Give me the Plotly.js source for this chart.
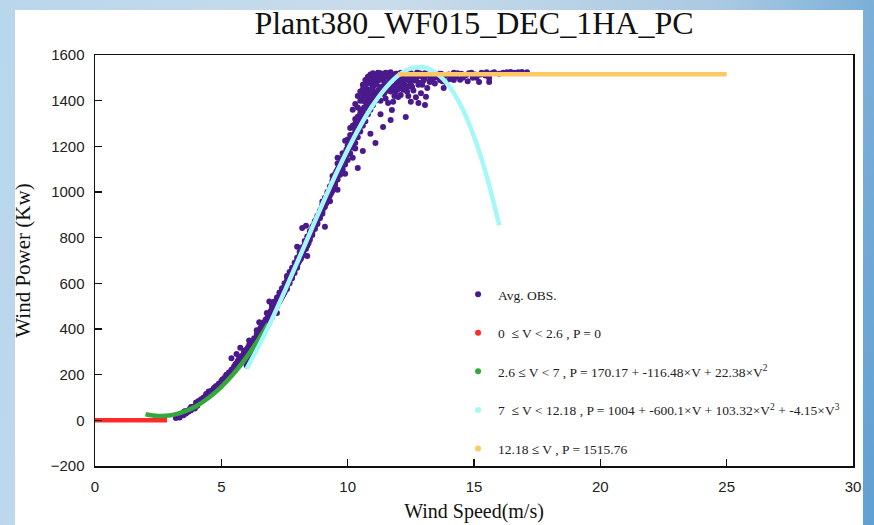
<!DOCTYPE html>
<html>
<head>
<meta charset="utf-8">
<script src="https://cdn.plot.ly/plotly-3.0.1.min.js"></script>
<style>
  html, body { margin: 0; padding: 0; width: 874px; height: 525px; overflow: hidden; }
  body { background: linear-gradient(100deg, #b9d6ec 0%, #c9dceb 40%, #a9c9e2 75%, #5f9fd2 100%); position: relative; }
  #panel { position: absolute; left: 15px; top: 10px; width: 848px; height: 515px; background: #ffffff; }
  #chart { position: absolute; left: 0; top: 0; width: 874px; height: 525px; }
</style>
</head>
<body>
<div id="panel"></div>
<div id="chart"></div>
<script>
const obsV = [
  3.2,3.3,3.35,3.4,3.5,3.5,3.6,3.65,3.7,3.75,3.8,3.85,3.9,3.95,4.0,4.0,4.05,4.1,4.15,4.2,4.25,4.3,4.35,4.4,4.45,4.5,4.5,
  4.55,4.6,4.65,4.7,4.75,4.8,4.85,4.9,4.95,5.0,5.0,5.05,5.1,5.15,5.2,5.2,5.25,5.3,5.35,5.4,5.45,5.5,5.5,5.55,5.6,5.65,5.7,5.7,5.75,5.8,5.85,5.9,5.95,6.0,6.0,
  5.4,5.75,5.6,6.1,
  6.05,6.1,6.15,6.2,6.25,6.3,6.35,6.4,6.45,6.5,6.5,6.55,6.6,6.65,6.7,6.75,6.8,6.85,6.9,6.95,7.0,7.0,7.05,7.1,7.15,7.2,7.25,7.3,7.35,7.4,7.45,7.5,7.5,
  6.5,6.9,7.2,7.6,
  7.55,7.6,7.65,7.7,7.75,7.8,7.85,7.9,7.95,8.0,8.0,8.05,8.1,8.15,8.2,8.25,8.3,8.35,8.4,8.45,8.5,8.5,8.55,8.6,8.65,8.7,8.75,8.8,8.85,8.9,8.95,9.0,9.0,
  8.0,8.4,9.1,8.2,8.35,9.3,
  9.05,9.1,9.15,9.2,9.25,9.3,9.35,9.4,9.45,9.5,9.5,9.55,9.6,9.65,9.7,9.75,9.8,9.85,9.9,9.95,10.0,10.0,10.05,10.1,10.15,10.2,10.25,10.3,10.35,10.4,10.45,10.5,
  9.6,9.9,10.2,10.4,10.6,10.3,
  9.4,9.6,9.9,10.1,10.3,
  10.5,10.55,10.6,10.65,10.7,10.75,10.8,10.85,10.9,10.95,11.0,10.6,10.7,10.8,10.9,11.0,11.1,11.2,11.3,
  10.2,10.4,10.6,10.8,10.3,10.5,10.7,11.0,10.9,
  11.1,11.4,11.7,11.75,12.3,12.0,12.5,12.8,13.06,13.1,12.9,13.8,14.2,10.9,11.3,11.6,
  11.0,11.1,11.15,11.2,11.25,11.3,11.35,11.4,11.45,11.5,11.55,11.6,11.65,11.7,11.75,11.8,11.85,11.9,11.95,12.0,12.05,12.1,12.15,12.2,12.25,12.3,12.35,12.4,12.45,12.5,
  12.55,12.6,12.7,12.75,12.8,12.9,13.0,13.05,13.15,13.2,13.3,13.4,13.45,13.55,13.65,13.7,13.8,13.9,14.0,14.1,14.2,14.3,14.45,14.5,14.6,14.75,14.8,14.95,15.05,15.2,
  15.3,15.45,15.6,15.6,15.8,16.0,16.3,16.6,16.9,17.1,
  11.35,11.5,11.6,11.8,11.95,12.1,12.25,12.4,12.6,12.85,13.0,13.25,13.5,11.45,11.7,11.9,12.2,12.5,12.65,13.35,
  3.45,3.55,3.8,4.05,4.2,4.4,4.6,4.75,4.9,5.05,5.2,5.3,5.45,5.6,5.8,5.9,
  6.0,6.0,6.0,6.1,6.1,6.2,6.2,6.2,6.3,6.3,6.4,6.4,6.4,6.5,6.5,6.6,6.6,6.6,6.7,6.7,6.8,6.8,6.8,6.9,6.9,
  7.0,7.0,7.0,7.1,7.1,7.2,7.2,7.2,7.3,7.3,7.4,7.4,7.4,7.5,7.5,7.6,7.6,7.6,7.7,7.7,7.8,7.8,7.8,7.9,7.9,
  8.0,8.0,8.0,8.1,8.1,8.2,8.2,8.2,8.3,8.3,8.4,8.4,8.4,8.5,8.5,8.6,8.6,8.6,8.7,8.7,8.8,8.8,8.8,8.9,8.9,
  9.0,9.0,9.0,9.1,9.1,9.2,9.2,9.2,9.3,9.3,9.4,9.4,9.4,9.5,9.5,9.6,9.6,9.6,9.7,9.7,9.8,9.8,9.8,9.9,9.9,
  10.0,10.0,10.0,10.1,10.1,10.1,10.2,10.2,10.2,10.3,10.3,10.3,10.4,10.4,10.4,10.4,10.5,10.5,10.5,10.5,
  10.6,10.6,10.6,10.6,10.7,10.7,10.7,10.7,10.8,10.8,10.8,10.8,10.9,10.9,10.9,11.0,11.0,11.0,11.1,11.1,11.1,11.2,11.2,11.2,11.3,11.3,11.3,
  11.35,11.45,11.55,11.65,11.75,11.85,11.95,12.05,12.15,12.25,12.35,12.45,12.55,12.65,12.75,12.85,12.95,13.05,13.15,13.25,13.35,13.45,13.6,13.75,13.85,14.05,14.15,14.35,14.55,14.7,14.9,15.1,15.25,15.5,15.7,16.15,16.45,16.75,
  11.4,11.5,11.7,11.8,12.0,12.1,12.3,12.4,12.6,12.7,11.6,11.9
];
const obsP = [
  10,18,12,25,22,35,30,42,38,50,44,55,60,52,68,78,72,85,80,92,88,100,96,108,104,118,126,
  115,130,124,140,132,150,142,160,150,172,158,180,170,190,182,200,193,210,203,222,212,235,218,245,238,260,250,270,262,282,272,298,285,310,292,
  272,318,290,350,
  318,330,312,345,335,360,342,378,365,395,372,405,390,425,410,440,428,458,445,478,462,490,480,508,495,525,512,548,530,565,550,585,560,
  430,520,470,632,
  598,575,615,600,640,622,660,645,685,668,700,690,725,708,745,730,770,752,790,775,815,790,830,812,855,838,878,860,900,885,925,905,945,
  760,720,848,842,852,960,
  930,965,950,990,972,1015,995,1040,1020,1065,1040,1090,1070,1110,1092,1135,1115,1160,1140,1185,1165,1205,1190,1228,1210,1250,1232,1270,1255,1292,1275,1310,
  1010,1080,1150,1105,1180,1190,
  1070,1150,1225,1280,1320,
  1360,1330,1400,1370,1420,1385,1450,1405,1475,1430,1495,1290,1310,1340,1360,1380,1400,1420,1400,
  1360,1420,1470,1505,1385,1440,1490,1520,1515,
  1215,1285,1315,1359,1329,1416,1395,1390,1381,1417,1433,1456,1491,1255,1340,1390,
  1440,1500,1470,1515,1490,1520,1460,1505,1480,1522,1445,1510,1490,1525,1465,1505,1420,1518,1480,1500,1455,1522,1490,1510,1470,1525,1440,1505,1485,1520,
  1460,1512,1495,1523,1470,1508,1488,1520,1455,1512,1495,1522,1475,1505,1490,1518,1500,1480,1515,1498,1522,1505,1492,1518,1508,1485,1520,1500,1515,1482,
  1522,1510,1482,1499,1524,1518,1525,1522,1526,1524,
  1498,1470,1512,1450,1495,1475,1500,1462,1490,1478,1505,1485,1510,1432,1455,1440,1448,1470,1505,1496,
  28,40,58,64,86,115,122,145,148,165,190,198,225,250,270,305,
  240,262,300,270,305,285,320,300,310,332,330,352,395,350,380,370,408,385,395,430,410,445,470,430,462,
  450,472,505,480,520,500,538,512,520,560,540,578,555,565,600,590,612,628,610,650,630,668,645,660,690,
  675,712,690,700,738,720,758,735,748,785,765,805,782,795,828,820,848,835,842,872,865,895,880,890,918,
  915,940,958,935,975,960,1000,980,985,1025,1005,1050,1030,1030,1078,1055,1100,1125,1075,1120,1100,1150,1170,1120,1170,
  1140,1195,1230,1170,1215,1250,1195,1235,1290,1215,1260,1300,1240,1285,1330,1370,1265,1300,1345,1400,
  1320,1360,1420,1450,1340,1395,1440,1470,1365,1420,1480,1490,1390,1440,1495,1410,1460,1505,1430,1480,1512,1445,1490,1522,1460,1500,1508,
  1515,1500,1520,1470,1512,1495,1518,1505,1515,1490,1520,1500,1515,1488,1505,1520,1470,1498,1515,1482,1510,1500,1518,1485,1510,1495,1510,1520,1500,1512,1522,1500,1515,1525,1520,1522,1526,1524,
  1430,1410,1440,1395,1450,1425,1460,1420,1445,1415,1460,1465
];

// ---- Fitted segments ----
const redV = [0, 2.85];
const redP = [0, 0];

const greenV = [2.0, 2.5, 3.0, 3.5, 4.0, 4.5, 5.0, 5.5, 6.0, 6.5, 6.85];
const greenP = [27, 19, 22, 37, 62, 99, 147, 206, 277, 359, 422];

const cyanV = [6.0, 6.5, 7.0, 7.5, 8.0, 8.5, 9.0, 9.5, 10.0, 10.5, 11.0, 11.5, 12.0, 12.5, 13.0, 13.5, 14.0, 14.5, 15.0, 15.5, 16.0];
const cyanP = [226, 329, 442, 564, 691, 819, 947, 1070, 1185, 1290, 1381, 1455, 1510, 1541, 1546, 1522, 1466, 1374, 1243, 1071, 854];

const orangeV = [12.0, 25.0];
const orangeP = [1515.76, 1515.76];

// ---- Labels ----
const chartTitle = 'Plant380_WF015_DEC_1HA_PC';
const xTitle = 'Wind Speed(m/s)';
const yTitle = 'Wind Power (Kw)';
const legendNames = [
  'Avg. OBS.',
  '0 \u00a0\u2264 V < 2.6 , P = 0',
  '2.6 \u2264 V < 7 , P = 170.17 + -116.48\u00d7V + 22.38\u00d7V<sup>2</sup>',
  '7 \u00a0\u2264 V < 12.18 , P = 1004 + -600.1\u00d7V + 103.32\u00d7V<sup>2</sup> + -4.15\u00d7V<sup>3</sup>',
  '12.18 \u2264 V , P = 1515.76'
];
const colors = ['#4a1a8c', '#ff2a2a', '#35a83c', '#a4f8f8', '#ffc864'];

const traces = [];
traces.push({
  x: obsV, y: obsP, type: 'scatter', mode: 'markers', name: legendNames[0],
  legendgroup: 'g0',
  marker: { color: colors[0], size: 6 }
});
// legend entries (dots) for fitted segments
for (let i = 1; i < 5; i++) {
  traces.push({
    x: [null], y: [null], type: 'scatter', mode: 'markers', name: legendNames[i],
    legendgroup: 'g' + i,
    marker: { color: colors[i], size: 6 }
  });
}
const segs = [[redV, redP], [greenV, greenP], [cyanV, cyanP], [orangeV, orangeP]];
segs.forEach((s, i) => {
  traces.push({
    x: s[0], y: s[1], type: 'scatter', mode: 'lines', showlegend: false,
    legendgroup: 'g' + (i + 1),
    line: { color: colors[i + 1], width: 4.5, shape: 'spline' }
  });
});

const layout = {
  width: 874, height: 525,
  paper_bgcolor: 'rgba(0,0,0,0)', plot_bgcolor: '#ffffff',
  margin: { l: 95, r: 21, t: 55, b: 59 },
  title: {
    text: chartTitle, x: 0.5, xref: 'paper', y: 23, yref: 'container', yanchor: 'middle',
    font: { family: 'Liberation Serif', size: 32, color: '#111' }
  },
  xaxis: {
    range: [0, 30], dtick: 5, tick0: 0,
    showgrid: false, zeroline: false,
    showline: true, linecolor: '#111', linewidth: 1.5, mirror: true,
    ticks: 'inside', ticklen: 7, tickwidth: 1.2, tickcolor: '#111',
    ticklabelstandoff: 6,
    tickfont: { family: 'Liberation Sans', size: 15, color: '#222' },
    title: { text: xTitle, standoff: 10, font: { family: 'Liberation Serif', size: 20, color: '#111' } }
  },
  yaxis: {
    range: [-200, 1600], dtick: 200, tick0: 0,
    showgrid: false, zeroline: false,
    showline: true, linecolor: '#111', linewidth: 1.5, mirror: true,
    ticks: 'inside', ticklen: 7, tickwidth: 1.2, tickcolor: '#111',
    ticklabelstandoff: 6,
    tickfont: { family: 'Liberation Sans', size: 15, color: '#222' },
    title: { text: yTitle, standoff: 14, font: { family: 'Liberation Serif', size: 21, color: '#111' } }
  },
  legend: {
    x: 0.479, y: 0.455, xanchor: 'left', yanchor: 'top',
    bgcolor: 'rgba(0,0,0,0)', borderwidth: 0,
    tracegroupgap: 18,
    font: { family: 'Liberation Serif', size: 13.5, color: '#222' }
  },
  showlegend: true
};
// title y in container fraction (center ~23px from top)
layout.title.y = 1 - 23 / 525;

Plotly.newPlot('chart', traces, layout, { displayModeBar: false, staticPlot: true });
</script>
</body>
</html>
